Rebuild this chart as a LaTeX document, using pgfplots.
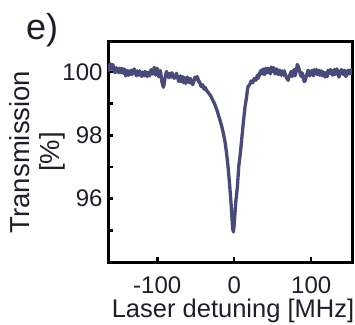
\documentclass[border=0pt]{standalone}
\usepackage{pgfplots}
\pgfplotsset{compat=1.18}
\usepackage{fontspec}
\setmainfont{Liberation Sans}
\definecolor{curve}{RGB}{74,74,120}
\definecolor{txt}{RGB}{30,30,40}
\begin{document}
\begin{tikzpicture}
\useasboundingbox (-108pt,-62pt) rectangle (247pt,262pt);
\begin{axis}[
  at={(0,0)}, anchor=south west,
  scale only axis, width=244pt, height=220pt,
  xmin=-164, xmax=153, ymin=94, ymax=100.95,
  xtick={-100,0,100},
  ytick={95,96,97,98,99,100},
  yticklabels={,96,,98,,100},
  tick pos=left, tick align=inside,
  major tick length=5pt,
  every tick/.style={black, line width=2.5pt},
  axis line style={black, line width=3pt},
  /pgf/number format/assume math mode=true,
  ticklabel style={font=\fontsize{24}{28}\selectfont, text=txt},
  xticklabel style={anchor=base, yshift=-31pt, inner sep=1pt},
  yticklabel style={anchor=east, xshift=-2pt},
  xlabel={Laser detuning [MHz]},
  xlabel style={font=\fontsize{25.5}{30}\selectfont, text=txt, inner sep=1pt, at={(rel axis cs:0.5,0)}, anchor=base, yshift=-55pt, xshift=3pt},
  ylabel={Transmission\\{[\%]}},
  ylabel style={font=\fontsize{27.5}{30}\selectfont, text=txt, align=center, at={(rel axis cs:0,0.5)}, anchor=center, rotate=0, yshift=71pt},
  clip=true,
]
\addplot[curve, line width=3.3pt, line join=round] coordinates {
(-164,100.12) (-163,100.05) (-162,100.20) (-161,100.26) (-160,100.15) (-159,100.08)
(-158,100.24) (-157,100.18) (-156,100.10) (-155,99.98) (-154,100.02) (-153,100.14)
(-152,100.08) (-151,100.02) (-150,99.98) (-149,100.12) (-148,100.05) (-147,99.98)
(-146,100.12) (-145,100.04) (-144,99.96) (-143,100.10) (-142,100.02) (-141,99.88)
(-140,99.92) (-139,100.06) (-138,100.00) (-137,99.90) (-136,99.95) (-135,100.02)
(-134,100.06) (-133,99.92) (-132,99.98) (-131,100.04) (-130,100.10) (-129,100.00)
(-128,99.94) (-127,99.88) (-126,100.04) (-125,99.96) (-124,99.90) (-123,100.04)
(-122,99.98) (-121,99.92) (-120,99.86) (-119,100.00) (-118,99.95) (-117,99.88)
(-116,100.02) (-115,99.98) (-114,99.92) (-113,99.86) (-112,100.00) (-111,99.94)
(-110,99.88) (-109,99.96) (-108,100.08) (-107,100.02) (-106,99.94) (-105,99.98)
(-104,100.15) (-103,100.02) (-102,99.90) (-101,100.04) (-100,100.12) (-99,99.95)
(-98,99.85) (-97,99.92) (-96,100.05) (-95,99.88) (-94,99.70) (-93,99.60)
(-92,99.52) (-91,99.62) (-90,99.80) (-89,99.92) (-88,100.02) (-87,99.94)
(-86,99.88) (-85,99.82) (-84,99.96) (-83,99.90) (-82,99.84) (-81,99.98)
(-80,99.92) (-79,99.86) (-78,99.80) (-77,99.84) (-76,99.90) (-75,99.96)
(-74,99.84) (-73,99.78) (-72,99.70) (-71,99.80) (-70,99.88) (-69,99.70)
(-68,99.78) (-67,99.86) (-66,99.66) (-65,99.74) (-64,99.82) (-63,99.64)
(-62,99.72) (-61,99.84) (-60,99.78) (-59,99.70) (-58,99.66) (-57,99.80)
(-56,99.72) (-55,99.66) (-54,99.60) (-53,99.68) (-52,99.74) (-51,99.84)
(-50,99.80) (-49,99.76) (-48,99.86) (-47,99.78) (-46,99.68) (-45,99.70)
(-44,99.62) (-43,99.54) (-42,99.58) (-41,99.60) (-40,99.50) (-39,99.46)
(-38,99.52) (-37,99.48) (-36,99.42) (-34,99.36)
(-32,99.30) (-30,99.22) (-28,99.12) (-26,99.02) (-24,98.90) (-22,98.76)
(-20,98.60) (-18,98.44) (-16,98.26) (-14,98.05) (-12,97.80) (-10,97.45)
(-8,97.00) (-6,96.45) (-4,95.80) (-3,95.40) (-2,95.05) (-1,94.95)
(0,95.20) (1,95.55) (2,95.90) (4,96.35) (6,97.05) (8,97.45)
(10,97.95) (12,98.45) (14,98.90) (16,99.20) (17,99.40) (18,99.55)
(20,99.60) (22,99.72) (24,99.66) (26,99.80) (28,99.74) (30,99.90)
(31,99.80) (32,99.86) (33,99.96) (34,100.02) (35,100.06) (36,99.94)
(37,100.02) (38,100.10) (39,99.92) (40,99.96) (41,100.12) (42,100.06)
(43,99.98) (44,100.12) (45,100.08) (46,100.02) (47,99.94) (48,100.16)
(49,100.02) (50,100.04) (51,100.14) (52,100.10) (53,99.94) (54,99.98)
(55,100.10) (56,100.06) (57,99.92) (58,100.00) (59,100.06) (60,99.96)
(61,99.90) (62,100.04) (63,99.96) (64,99.90) (65,100.04) (66,99.96)
(67,99.88) (68,99.82) (69,99.78) (70,99.74) (71,99.84) (72,99.90)
(73,99.96) (74,100.02) (75,99.86) (76,99.94) (77,100.04) (78,100.08)
(79,99.88) (80,99.96) (81,100.10) (82,100.24) (83,100.18) (84,100.12)
(85,100.02) (86,99.92) (87,99.86) (88,99.98) (89,99.92) (90,99.78)
(91,99.70) (92,99.72) (93,99.82) (94,99.90) (95,99.98) (96,100.06)
(97,99.94) (98,99.88) (99,99.96) (100,100.00) (101,100.06) (102,99.94)
(103,99.88) (104,100.08) (105,99.98) (106,100.02) (107,100.08) (108,99.92)
(109,99.98) (110,100.06) (111,99.90) (112,99.96) (113,100.04) (114,99.88)
(115,99.94) (116,100.00) (117,99.92) (118,99.84) (119,99.98) (120,99.92)
(121,99.86) (122,100.06) (123,100.02) (124,99.96) (125,100.08) (126,100.02)
(127,99.94) (128,99.90) (129,100.00) (130,100.08) (131,99.92) (132,99.98)
(133,100.10) (134,100.06) (135,99.94) (136,99.84) (137,99.92) (138,99.96)
(139,100.08) (140,100.04) (141,99.96) (142,99.92) (143,100.06) (144,100.00)
(145,99.86) (146,99.90) (147,99.98) (148,100.06) (149,100.00) (150,99.94)
(151,100.04) (152,100.08) (153,99.96) (154,100.02)
};
\end{axis}
\node[anchor=base west, inner sep=0pt, font=\fontsize{36}{40}\selectfont, text=txt] at (-82pt,222pt) {e)};
\end{tikzpicture}
\end{document}
